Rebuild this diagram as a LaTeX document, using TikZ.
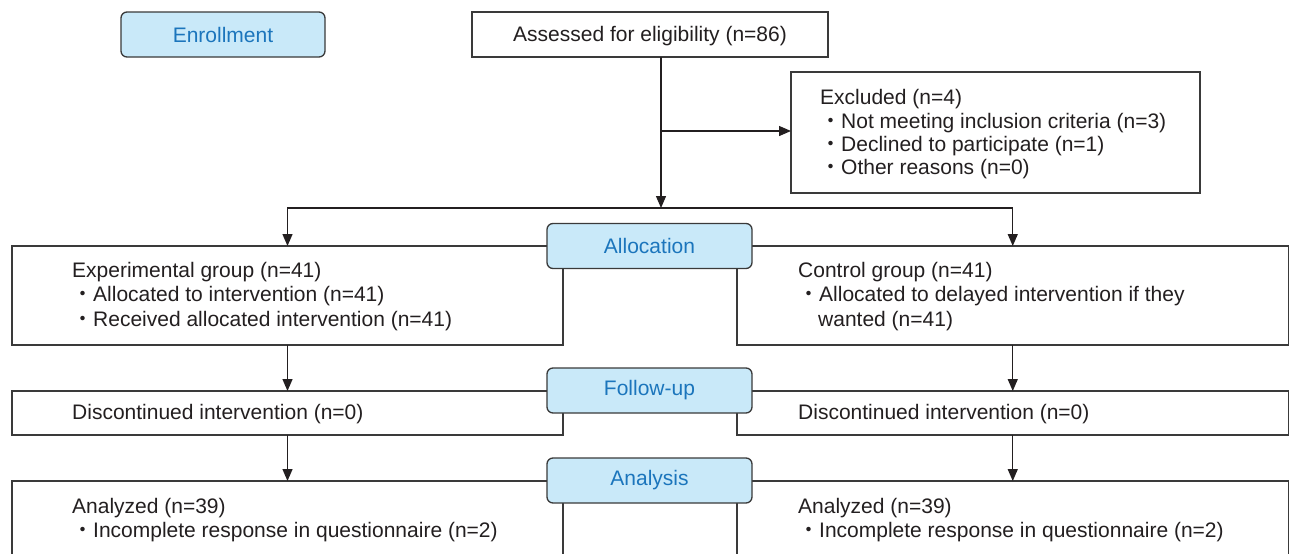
\documentclass[tikz,border=0pt]{standalone}
\usepackage{fontspec}
\setmainfont{Liberation Sans}
\newfontfamily\cjk{Noto Sans CJK JP}
\usetikzlibrary{arrows.meta}
\definecolor{lblfill}{HTML}{C9E9F9}
\definecolor{lbltext}{HTML}{1B75BC}
\definecolor{edge}{HTML}{3A3A3A}
\definecolor{ink}{HTML}{231F20}
\newcommand{\bul}{\makebox[21pt][c]{\cjk ・}}
\begin{document}
\begin{tikzpicture}[x=1pt,y=-1pt,
  font=\fontsize{21}{24.5}\selectfont,
  box/.style={draw=edge, line width=1.3pt, fill=white, rectangle, anchor=north west, inner sep=0pt, outer sep=0pt},
  txt/.style={anchor=west, align=left, inner sep=0pt, text=ink},
  lbl/.style={draw=edge, line width=1.3pt, fill=lblfill, text=lbltext, rounded corners=6pt, minimum width=205pt, minimum height=45pt, inner sep=0pt},
  conn/.style={draw=ink, line width=1.3pt},
  arr/.style={conn, -{Triangle[length=12pt,width=10pt]}}]
\useasboundingbox (0,0) rectangle (1290,554);
\clip (0,0) rectangle (1290,554);
% boxes
\node[box, minimum width=356pt, minimum height=45pt] (assess) at (472,12) {};
\node[txt, anchor=center] (assessT) at ([yshift=-1.5pt]assess.center) {Assessed for eligibility (n=86)};
\node[box, minimum width=409pt, minimum height=121pt] (excl) at (791,72) {};
\node[txt, font=\fontsize{21}{23.3}\selectfont] (exclT) at ([xshift=29pt,yshift=-2pt]excl.west) {Excluded (n=4)\\\bul Not meeting inclusion criteria (n=3)\\\bul Declined to participate (n=1)\\\bul Other reasons (n=0)};
\node[box, minimum width=551pt, minimum height=99pt] (exp) at (12,246) {};
\node[txt] (expT) at ([xshift=60pt,yshift=-1pt]exp.west) {Experimental group (n=41)\\\bul Allocated to intervention (n=41)\\\bul Received allocated intervention (n=41)};
\node[box, minimum width=551.5pt, minimum height=99pt] (ctl) at (737,246) {};
\node[txt] (ctlT) at ([xshift=61pt,yshift=-1pt]ctl.west) {Control group (n=41)\\\bul Allocated to delayed intervention if they\\\hspace*{20pt}wanted (n=41)};
\node[box, minimum width=551pt, minimum height=44pt] (disc1) at (12,391) {};
\node[txt] (disc1T) at ([xshift=60pt,yshift=-1pt]disc1.west) {Discontinued intervention (n=0)};
\node[box, minimum width=551.5pt, minimum height=44pt] (disc2) at (737,391) {};
\node[txt] (disc2T) at ([xshift=61pt,yshift=-1pt]disc2.west) {Discontinued intervention (n=0)};
\node[box, minimum width=551pt, minimum height=74pt] (ana1) at (12,481) {};
\node[txt] (ana1T) at ([xshift=60pt,yshift=-2pt]ana1.west) {Analyzed (n=39)\\\bul Incomplete response in questionnaire (n=2)};
\node[box, minimum width=551.5pt, minimum height=74pt] (ana2) at (737,481) {};
\node[txt] (ana2T) at ([xshift=61pt,yshift=-2pt]ana2.west) {Analyzed (n=39)\\\bul Incomplete response in questionnaire (n=2)};
% stage labels
\node[lbl, minimum width=204pt] (enroll) at (223,34.5) {Enrollment};
\node[lbl] (alloc) at (649.5,246) {Allocation};
\node[lbl] (follow) at (649.5,390.5) {Follow-up};
\node[lbl] (analysis) at (649.5,480.5) {Analysis};
% connectors
\coordinate (split) at (661,208);
\coordinate (mid) at (661,131);
\draw[arr] (split |- assess.south) -- (split);
\draw[arr] (mid) -- (mid -| excl.west);
\draw[arr] (split) -| (exp.north);
\draw[arr] (split) -| (ctl.north);
\draw[arr] (exp.south) -- (disc1.north);
\draw[arr] (ctl.south) -- (disc2.north);
\draw[arr] (disc1.south) -- (ana1.north);
\draw[arr] (disc2.south) -- (ana2.north);
\end{tikzpicture}
\end{document}
